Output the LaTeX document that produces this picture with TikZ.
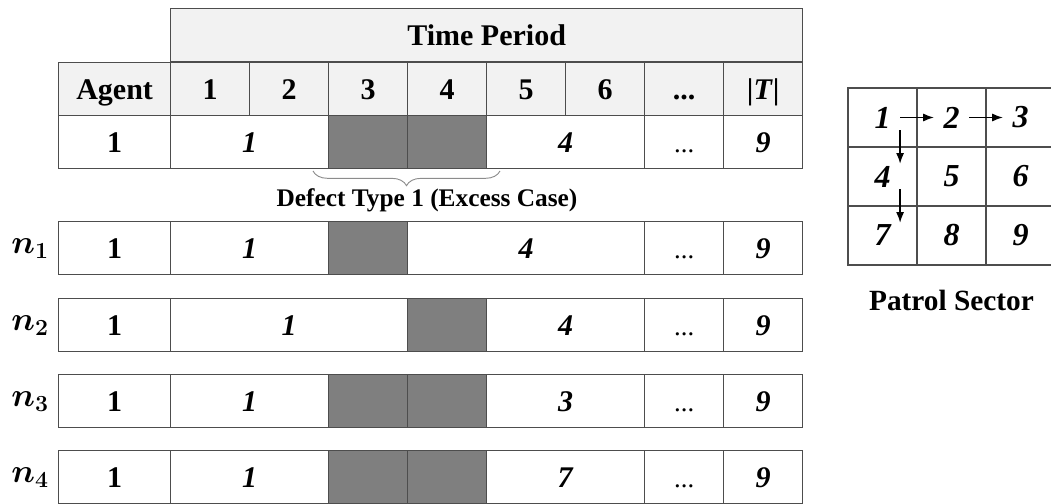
\documentclass[tikz,border=0pt]{standalone}
\usepackage{fontspec}
\setmainfont{Liberation Serif}
\usepackage{amsmath}
\usetikzlibrary{arrows.meta,decorations.pathreplacing}
\definecolor{rule}{HTML}{4D4D4D}
\definecolor{headgray}{HTML}{F2F2F2}
\definecolor{idlegray}{HTML}{7F7F7F}
\definecolor{bracegray}{HTML}{8C8C8C}

\begin{document}
\begin{tikzpicture}[
    x=0.75pt, y=-0.75pt,
    cell/.style={draw=rule, line width=1pt, fill=white, inner sep=0pt,
        anchor=north west, minimum height=39.75pt,
        text height=15pt, text depth=0pt,
        font=\fontsize{22.5}{24}\selectfont\bfseries},
    cols/.style={cell, minimum width=#1*59.25pt},
    head/.style={fill=headgray},
    idle/.style={fill=idlegray},
    sector/.style={draw=rule, line width=1pt, inner sep=0pt,
        minimum width=51.75pt, minimum height=44.25pt},
    cellnum/.style={inner xsep=7pt, inner ysep=1.5pt,
        font=\fontsize{24}{26}\selectfont\bfseries\itshape},
    rowlabel/.style={font=\fontsize{23}{25}\selectfont\boldmath},
    route/.style={-{Latex[length=8pt,width=6pt]}, line width=1pt}
]
\useasboundingbox (0,0) rectangle (1051,504);

% Header
\node[cols=8, head] (period) at (170,8) {Time Period};
\node[cell, head, minimum width=84pt] (agent) at (58,62) {Agent};
\foreach \t in {1,...,6}
    \node[cols=1, head] (t\t) at ({170+79*(\t-1)},62) {\t};
\node[cols=1, head] (tdots) at (644,62) {...};
\node[cols=1, head] (tlast) at (723,62) {|\textit{T}|};

% Agent rows: cells that repeat
\foreach \i/\y in {0/115, 1/221, 2/298, 3/374, 4/450} {
    \node[cell, minimum width=84pt] (a\i) at (58,\y) {1};
    \node[cols=1] (d\i) at (644,\y) {\mdseries\fontsize{20}{22}\selectfont...};
    \node[cols=1] (e\i) at (723,\y) {\textit{9}};
}

% Row of agent 1
\node[cols=2] (s0a) at (170,115) {\textit{1}};
\node[cols=1, idle] (g0a) at (328,115) {};
\node[cols=1, idle] (g0b) at (407,115) {};
\node[cols=2] (s0b) at (486,115) {\textit{4}};

% Defect brace
\coordinate (bl) at (313,171);
\coordinate (br) at (500,171);
\draw[bracegray, line width=0.7pt, decorate,
    decoration={brace, mirror, amplitude=11pt}] (bl) -- (br);
\node[font=\fontsize{19}{21}\selectfont\bfseries] (excess) at (427,200)
    {Defect Type 1 (Excess Case)};

% Row n1
\node[cols=2] (s1a) at (170,221) {\textit{1}};
\node[cols=1, idle] (g1a) at (328,221) {};
\node[cols=3] (s1b) at (407,221) {\textit{4}};

% Row n2
\node[cols=3] (s2a) at (170,298) {\textit{1}};
\node[cols=1, idle] (g2a) at (407,298) {};
\node[cols=2] (s2b) at (486,298) {\textit{4}};

% Row n3
\node[cols=2] (s3a) at (170,374) {\textit{1}};
\node[cols=1, idle] (g3a) at (328,374) {};
\node[cols=1, idle] (g3b) at (407,374) {};
\node[cols=2] (s3b) at (486,374) {\textit{3}};

% Row n4
\node[cols=2] (s4a) at (170,450) {\textit{1}};
\node[cols=1, idle] (g4a) at (328,450) {};
\node[cols=1, idle] (g4b) at (407,450) {};
\node[cols=2] (s4b) at (486,450) {\textit{7}};

% Row labels
\node[rowlabel, xshift=-21pt] (n1) at (a1.west) {$n_1$};
\node[rowlabel, xshift=-21pt] (n2) at (a2.west) {$n_2$};
\node[rowlabel, xshift=-21pt] (n3) at (a3.west) {$n_3$};
\node[rowlabel, xshift=-21pt] (n4) at (a4.west) {$n_4$};

% Patrol sector
\foreach \k [evaluate=\k as \cx using {882.5+69*mod(\k-1,3)},
             evaluate=\k as \cy using {117.5+59*int((\k-1)/3)}] in {1,...,9} {
    \node[sector] (q\k) at (\cx,\cy) {};
    \node[cellnum] (p\k) at (q\k.center) {\k};
}
\draw[route] (p1) -- (p2);
\draw[route] (p2) -- (p3);
\draw[route] (p1.south east) -- (p1.south east |- p4.north);
\draw[route] (p1.south east |- p4.south) -- (p1.south east |- p7.north);
\node[font=\fontsize{22}{24}\selectfont\bfseries, yshift=-26pt] (patrol)
    at (q8.south) {Patrol Sector};
\end{tikzpicture}
\end{document}
